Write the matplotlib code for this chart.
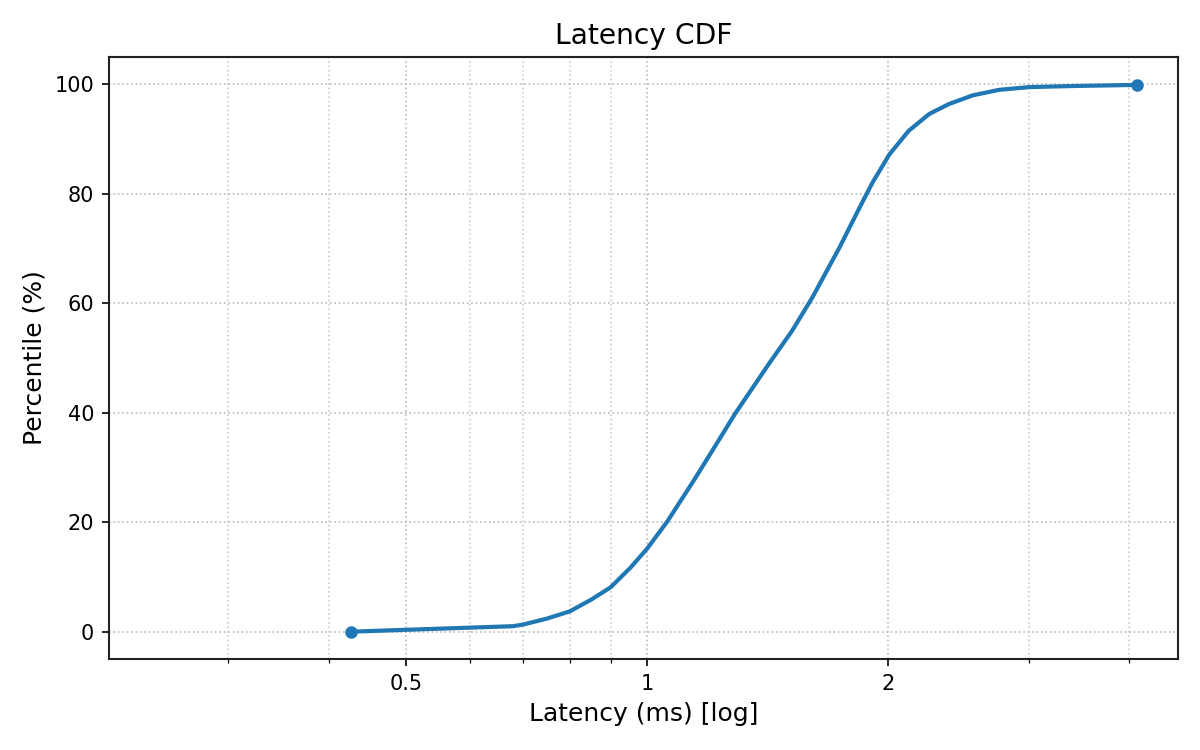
import numpy as np
import matplotlib
matplotlib.use('Agg')
import matplotlib.pyplot as plt
from matplotlib.ticker import FixedLocator, FixedFormatter, NullFormatter

# percentiles
latency_ms = [0.427, 0.68, 0.70, 0.75, 0.80, 0.85, 0.90, 0.953, 1.0, 1.059,
              1.144, 1.206, 1.287, 1.418, 1.517, 1.608, 1.738, 1.84, 1.91,
              2.006, 2.12, 2.25, 2.38, 2.55, 2.75, 3.0, 3.4, 4.09]
percentile = [0, 1.0, 1.3, 2.4, 3.7, 5.8, 8.1, 11.7, 15.2, 20.1,
              27.7, 33.1, 39.8, 48.9, 55.0, 61.1, 70.2, 77.4, 82.0,
              87.2, 91.5, 94.6, 96.4, 98.0, 99.0, 99.5, 99.7, 99.9]

major_ticks = [0.5, 1, 2]
major_labels = ['0.5', '1', '2']
minor_ticks = [0.3, 0.4, 0.6, 0.7, 0.8, 0.9, 3, 4]

fig, ax = plt.subplots(figsize=(8, 5), dpi=150)
plt.subplots_adjust(left=0.0906, right=0.9817, top=0.924, bottom=0.1213)

ax.plot(latency_ms, percentile, color='#1f77b4', linewidth=2,
        marker='o', markersize=5, markevery=[0, len(latency_ms) - 1])

ax.set_xscale('log')
ax.set_xlim(0.2126, 4.6)
ax.set_ylim(-5, 105)

ax.xaxis.set_major_locator(FixedLocator(major_ticks))
ax.xaxis.set_major_formatter(FixedFormatter(major_labels))
ax.xaxis.set_minor_locator(FixedLocator(minor_ticks))
ax.xaxis.set_minor_formatter(NullFormatter())

ax.grid(True, which='major', linestyle=':', color='#bbbbbb', linewidth=0.8)
ax.grid(True, which='minor', axis='x', linestyle=':', color='#cccccc', linewidth=0.8)

for s in ax.spines.values():
    s.set_color('#222222')
    s.set_linewidth(1.0)

ax.set_title('Latency CDF', fontsize=13.5)
ax.set_xlabel('Latency (ms) [log]', fontsize=12)
ax.set_ylabel('Percentile (%)', fontsize=12)

plt.savefig('out.png')
